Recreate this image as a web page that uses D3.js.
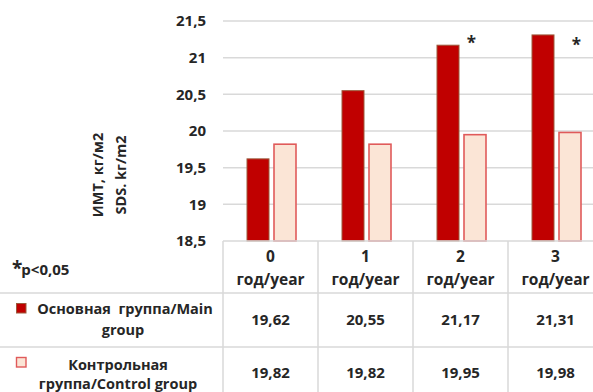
<!DOCTYPE html>
<html>
<head>
<meta charset="utf-8">
<script src="https://cdn.jsdelivr.net/npm/d3@7"></script>
<style>
  html, body { margin: 0; padding: 0; background: #fff; }
  svg { display: block; font-family: "Open Sans", sans-serif; font-weight: 700; }
  text { white-space: pre; }
</style>
</head>
<body>
<svg id="chart" width="593" height="392"></svg>
<script>
// BMI SDS by year of observation, main vs control group
const categories = ["0", "1", "2", "3"];
const yearLabel = "год/year";
const seriesNames = ["Основная  группа/Main group", "Контрольная группа/Control group"];
const mainValues = [19.62, 20.55, 21.17, 21.31];
const controlValues = [19.82, 19.82, 19.95, 19.98];
const yTicks = [18.5, 19, 19.5, 20, 20.5, 21, 21.5];
const significant = ["2", "3"];          // categories marked with *
const starShift = [11, 21];              // horizontal nudge of each * from its category centre

const fmt = v => String(v).replace(".", ",");
const fmt2 = v => v.toFixed(2).replace(".", ",");

const svg = d3.select("#chart");
const textColor = "#262626";
const gridColor = "#d9d9d9";
const mainFill = "#c00000", mainStroke = "#9c5a3c";
const ctrlFill = "#fbe5d6", ctrlStroke = "#e05a5a";

const plot = { left: 223, right: 603, top: 21, bottom: 241 };

const x = d3.scaleBand().domain(categories).range([plot.left, plot.right]).padding(0);
const xs = d3.scaleBand().domain(["main", "control"]).range([24, 73]).paddingInner(5 / 27).paddingOuter(0);
const y = d3.scaleLinear().domain([18.5, 21.5]).range([plot.bottom, plot.top]);

// horizontal gridlines
svg.append("g").selectAll("line").data(yTicks.slice(1)).join("line")
  .attr("x1", plot.left).attr("x2", 593)
  .attr("y1", d => y(d)).attr("y2", d => y(d))
  .attr("stroke", gridColor).attr("stroke-width", 1.5);

// y axis labels
const yAxis = svg.append("g").attr("transform", `translate(${plot.left},0)`)
  .call(d3.axisLeft(y).tickValues(yTicks).tickFormat(fmt).tickSize(0).tickPadding(17));
yAxis.select(".domain").remove();
yAxis.selectAll("text")
  .attr("fill", textColor)
  .style("font-family", "'Open Sans', sans-serif")
  .style("font-weight", 700)
  .style("font-size", "15px");

// y axis title (two rotated lines)
const titleY = 175;
[["ИМТ, кг/м2", 103], ["SDS. kг/m2", 126]].forEach(([t, cx]) => {
  svg.append("text")
    .attr("transform", `translate(${cx},${titleY}) rotate(-90)`)
    .attr("text-anchor", "middle")
    .attr("fill", textColor)
    .style("font-size", "14.5px")
    .text(t);
});

// bars
const barData = categories.map((c, i) => [
  { cat: c, key: "main", value: mainValues[i] },
  { cat: c, key: "control", value: controlValues[i] }
]).flat();

svg.append("g").selectAll("rect").data(barData).join("rect")
  .attr("x", d => x(d.cat) + xs(d.key))
  .attr("width", xs.bandwidth())
  .attr("y", d => y(d.value))
  .attr("height", d => y(18.5) - y(d.value))
  .attr("fill", d => d.key === "main" ? mainFill : ctrlFill)
  .attr("stroke", d => d.key === "main" ? mainStroke : ctrlStroke)
  .attr("stroke-width", d => d.key === "main" ? 1 : 1.6);

// significance stars
svg.append("g").selectAll("text").data(significant).join("text")
  .attr("x", (d, i) => x(d) + x.bandwidth() / 2 + starShift[i])
  .attr("y", (d, i) => y(21.2) + 6 + i * 2)
  .attr("text-anchor", "middle")
  .attr("fill", textColor)
  .style("font-size", "17px")
  .text("*");

// data table grid
const rowTop = [plot.bottom, 293, 347];
const tableLines = svg.append("g").attr("stroke", gridColor).attr("stroke-width", 1.5);
tableLines.append("line").attr("x1", plot.left).attr("x2", 593).attr("y1", rowTop[0]).attr("y2", rowTop[0]);
[rowTop[1], rowTop[2]].forEach(yy =>
  tableLines.append("line").attr("x1", 0).attr("x2", 593).attr("y1", yy).attr("y2", yy));
categories.forEach(c =>
  tableLines.append("line").attr("x1", x(c)).attr("x2", x(c)).attr("y1", rowTop[0]).attr("y2", 392));

// header row: category labels
const head = svg.append("g").attr("fill", textColor).style("font-size", "15.5px").attr("text-anchor", "middle");
categories.forEach(c => {
  const cx = x(c) + x.bandwidth() / 2;
  head.append("text").attr("x", cx).attr("y", 257).attr("dy", "0.35em").text(c);
  head.append("text").attr("x", cx).attr("y", 280).attr("dy", "0.35em").text(yearLabel);
});

// value rows
const vals = svg.append("g").attr("fill", textColor).style("font-size", "15px").attr("text-anchor", "middle");
[mainValues, controlValues].forEach((arr, r) => {
  const cy = r === 0 ? 320 : 373;
  arr.forEach((v, i) => {
    vals.append("text").attr("x", x(categories[i]) + x.bandwidth() / 2).attr("y", cy).attr("dy", "0.35em").text(fmt2(v));
  });
});

// legend entries in the table's first column
const leg = svg.append("g").attr("fill", textColor).style("font-size", "14.5px");
leg.append("rect").attr("x", 16.5).attr("y", 303.5).attr("width", 9.5).attr("height", 9.5)
  .attr("fill", mainFill).attr("stroke", mainStroke).attr("stroke-width", 1);
leg.append("text").attr("x", 125).attr("y", 309).attr("dy", "0.35em").attr("text-anchor", "middle").text("Основная  группа/Main");
leg.append("text").attr("x", 123).attr("y", 330).attr("dy", "0.35em").attr("text-anchor", "middle").text("group");

leg.append("rect").attr("x", 16.5).attr("y", 357.5).attr("width", 9.5).attr("height", 9.5)
  .attr("fill", ctrlFill).attr("stroke", ctrlStroke).attr("stroke-width", 1.4);
leg.append("text").attr("x", 118).attr("y", 365).attr("dy", "0.35em").attr("text-anchor", "middle").text("Контрольная");
leg.append("text").attr("x", 118).attr("y", 384).attr("dy", "0.35em").attr("text-anchor", "middle").text("группа/Control group");

// significance note
const note = svg.append("text").attr("x", 12).attr("y", 275).attr("fill", textColor).style("font-size", "15px");
note.append("tspan").style("font-size", "19px").text("*");
note.append("tspan").attr("dx", -1).text("p<0,05");
</script>
</body>
</html>
